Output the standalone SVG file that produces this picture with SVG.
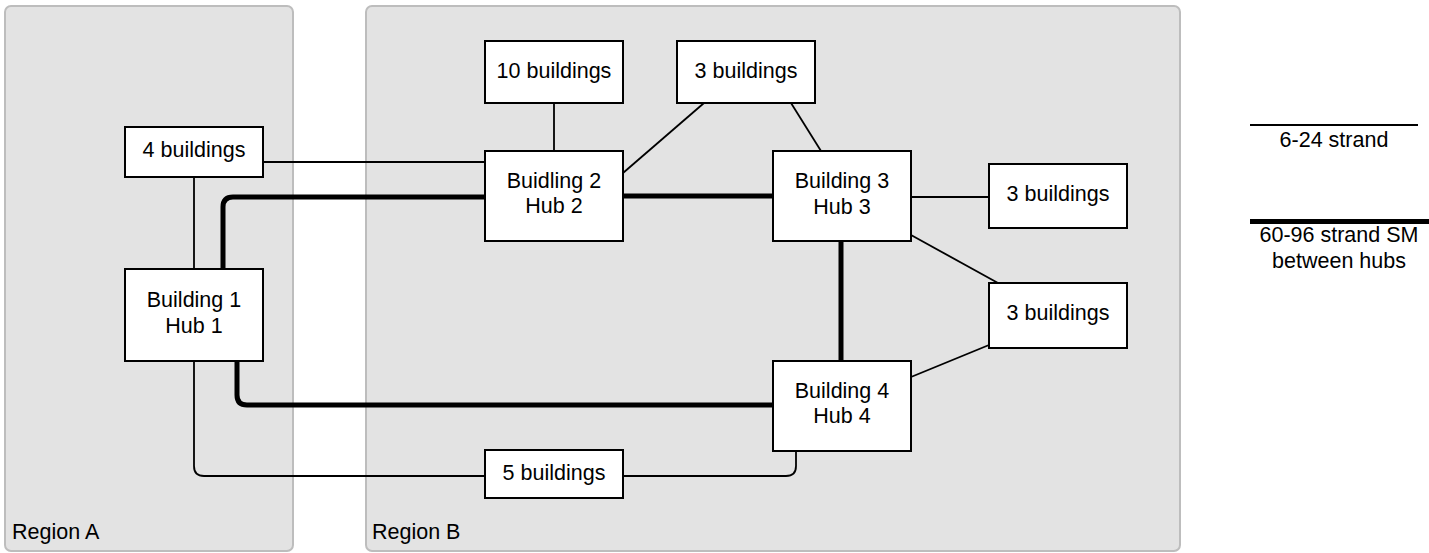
<svg xmlns="http://www.w3.org/2000/svg" width="1429" height="553" viewBox="0 0 1429 553">
<style>
.region{fill:#e3e3e3;stroke:#bdbdbd;stroke-width:2}
.node{fill:#ffffff;stroke:#000000;stroke-width:2}
text{font-family:"Liberation Sans",Arial,sans-serif;font-size:21.5px;fill:#000;text-anchor:middle}
.rl{text-anchor:start}
.thin{fill:none;stroke:#000;stroke-width:1.8}
.thick{fill:none;stroke:#000;stroke-width:5}
</style>
<rect width="1429" height="553" fill="#ffffff"/>
<g id="regionA"><rect class="region" x="5" y="6" width="288" height="545" rx="6"/><text class="rl" x="12" y="539">Region A</text></g>
<g id="regionB"><rect class="region" x="366" y="6" width="814" height="545" rx="6"/><text class="rl" x="372" y="539">Region B</text></g>
<g id="connectors">
<path class="thin" d="M263,162 H485"/>
<path class="thin" d="M194,177 V269"/>
<path class="thick" d="M223,269 V207 Q223,197 233,197 H485"/>
<path class="thick" d="M237,361 V395 Q237,405 247,405 H773"/>
<path class="thin" d="M194,361 V466 Q194,476 204,476 H485"/>
<path class="thin" d="M623,476 H786 Q796,476 796,466 V451"/>
<path class="thick" d="M623,196 H773"/>
<path class="thin" d="M554,103 V151"/>
<path class="thin" d="M623,173 L704,103"/>
<path class="thin" d="M791,103 L821,151"/>
<path class="thin" d="M911,197 H989"/>
<path class="thin" d="M911,235 L998,283"/>
<path class="thin" d="M911,377 L989,345"/>
<path class="thick" d="M841,241 V361"/>
</g>
<g id="n4b"><rect class="node" x="125" y="127" width="138" height="50"/><text x="194" y="157">4 buildings</text></g>
<g id="hub1"><rect class="node" x="125" y="269" width="138" height="92"/><text x="194" y="307">Building 1</text><text x="194" y="333">Hub 1</text></g>
<g id="n10b"><rect class="node" x="485" y="41" width="138" height="62"/><text x="554" y="78">10 buildings</text></g>
<g id="n3top"><rect class="node" x="677" y="41" width="138" height="62"/><text x="746" y="78">3 buildings</text></g>
<g id="hub2"><rect class="node" x="485" y="151" width="138" height="90"/><text x="554" y="188">Buidling 2</text><text x="554" y="213">Hub 2</text></g>
<g id="hub3"><rect class="node" x="773" y="151" width="138" height="90"/><text x="842" y="188">Building 3</text><text x="842" y="214">Hub 3</text></g>
<g id="n3r1"><rect class="node" x="989" y="164" width="138" height="64"/><text x="1058" y="201">3 buildings</text></g>
<g id="n3r2"><rect class="node" x="989" y="283" width="138" height="65"/><text x="1058" y="320">3 buildings</text></g>
<g id="hub4"><rect class="node" x="773" y="361" width="138" height="90"/><text x="842" y="398">Building 4</text><text x="842" y="423">Hub 4</text></g>
<g id="n5b"><rect class="node" x="485" y="450" width="138" height="48"/><text x="554" y="480">5 buildings</text></g>
<g id="legend">
<path d="M1250,125 H1418" stroke="#000" stroke-width="2"/>
<text x="1334" y="147">6-24 strand</text>
<path d="M1250,221.5 H1429" stroke="#000" stroke-width="5"/>
<text x="1339" y="242">60-96 strand SM</text>
<text x="1339" y="268">between hubs</text>
</g>
</svg>
